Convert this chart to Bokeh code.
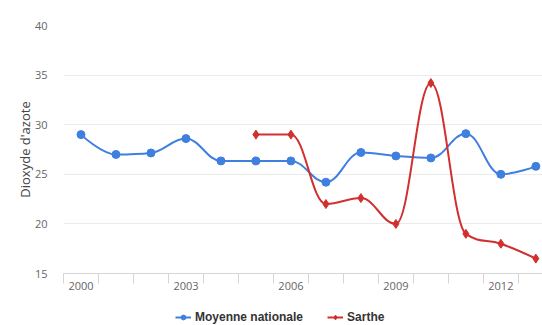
from bokeh.plotting import figure
from bokeh.layouts import column
from bokeh.models import Range1d, FixedTicker, Legend, LegendItem
from bokeh.embed import file_html
from bokeh.resources import INLINE

# ---- data ----
years_nat = [2000, 2001, 2002, 2003, 2004, 2005, 2006, 2007, 2008, 2009, 2010, 2011, 2012, 2013]
nat = [29.0, 27.0, 27.15, 28.6, 26.35, 26.35, 26.35, 24.2, 27.2, 26.85, 26.65, 29.1, 25.0, 25.8]
years_sar = [2005, 2006, 2007, 2008, 2009, 2010, 2011, 2012, 2013]
sarthe = [29.0, 29.0, 22.0, 22.6, 20.0, 34.2, 19.0, 18.0, 16.5]
y_ticks = [15, 20, 25, 30, 35, 40]
x_label_years = [2000, 2003, 2006, 2009, 2012]
series_names = ["Moyenne nationale", "Sarthe"]

BLUE = "#3f7fe0"
RED = "#d22f2f"


def spline_segments(xs, ys, smoothing=1.5):
    """Highcharts-style spline control points (derived from data points)."""
    n = len(xs)
    denom = smoothing + 1
    lcx, lcy = list(xs), list(ys)
    rcx, rcy = list(xs), list(ys)
    for i in range(1, n - 1):
        px, py = xs[i - 1], ys[i - 1]
        x, y = xs[i], ys[i]
        nx, ny = xs[i + 1], ys[i + 1]
        lx = (smoothing * x + px) / denom
        ly = (smoothing * y + py) / denom
        rx = (smoothing * x + nx) / denom
        ry = (smoothing * y + ny) / denom
        if rx != lx:
            corr = ((ry - ly) * (rx - x)) / (rx - lx) + y - ry
            ly += corr
            ry += corr
        if ly > max(py, y):
            ly = max(py, y); ry = 2 * y - ly
        elif ly < min(py, y):
            ly = min(py, y); ry = 2 * y - ly
        if ry > max(ny, y):
            ry = max(ny, y); ly = 2 * y - ry
        elif ry < min(ny, y):
            ry = min(ny, y); ly = 2 * y - ry
        lcx[i], lcy[i], rcx[i], rcy[i] = lx, ly, rx, ry
    seg = dict(x0=[], y0=[], x1=[], y1=[], cx0=[], cy0=[], cx1=[], cy1=[])
    for i in range(1, n):
        seg["x0"].append(xs[i - 1]); seg["y0"].append(ys[i - 1])
        seg["x1"].append(xs[i]); seg["y1"].append(ys[i])
        seg["cx0"].append(rcx[i - 1]); seg["cy0"].append(rcy[i - 1])
        seg["cx1"].append(lcx[i]); seg["cy1"].append(lcy[i])
    return seg


p = figure(width=542, height=300, output_backend="svg", toolbar_location=None,
           x_range=Range1d(years_nat[0] - 0.5, years_nat[-1] + 0.19),
           y_range=Range1d(y_ticks[0], y_ticks[-1]),
           min_border_left=63, min_border_right=0, min_border_top=25, min_border_bottom=27)
p.outline_line_color = None
p.background_fill_color = "white"
p.border_fill_color = "white"

# axes
xa = p.xaxis[0]
xa.ticker = FixedTicker(ticks=x_label_years,
                        minor_ticks=[y - 0.5 for y in years_nat] + [years_nat[-1] + 0.5])
xa.major_tick_out = 0
xa.major_tick_in = 0
xa.minor_tick_in = 0
xa.minor_tick_out = 10
xa.minor_tick_line_color = "#d6d6d6"
xa.axis_line_color = "#d6d6d6"
xa.major_label_standoff = -2
xa.major_label_text_font = "Open Sans"
xa.major_label_text_font_size = "11px"
xa.major_label_text_color = "#666666"

ya = p.yaxis[0]
ya.ticker = FixedTicker(ticks=y_ticks)
ya.axis_line_color = None
ya.major_tick_line_color = None
ya.minor_tick_line_color = None
ya.major_label_standoff = 10
ya.major_label_text_font = "Open Sans"
ya.major_label_text_font_size = "11px"
ya.major_label_text_color = "#666666"
ya.axis_label = "Dioxyde d'azote"
ya.axis_label_text_font = "Open Sans"
ya.axis_label_text_font_style = "normal"
ya.axis_label_text_font_size = "13px"
ya.axis_label_text_color = "#444444"
ya.axis_label_standoff = -2

p.xgrid.grid_line_color = None
p.ygrid.ticker = FixedTicker(ticks=y_ticks)
p.ygrid.grid_line_color = "#ebebeb"

# series
seg_n = spline_segments(years_nat, nat)
seg_s = spline_segments(years_sar, sarthe)

p.bezier(x0="x0", y0="y0", x1="x1", y1="y1", cx0="cx0", cy0="cy0", cx1="cx1", cy1="cy1",
         source=seg_n, line_color=BLUE, line_width=2)
p.scatter(years_nat, nat, marker="circle", size=8, fill_color=BLUE, line_color=BLUE)
p.bezier(x0="x0", y0="y0", x1="x1", y1="y1", cx0="cx0", cy0="cy0", cx1="cx1", cy1="cy1",
         source=seg_s, line_color=RED, line_width=2)
p.scatter(years_sar, sarthe, marker="diamond", size=9, fill_color=RED, line_color=RED)

# ---- legend strip (separate small figure below the chart; its series lie off-view) ----
lf = figure(width=542, height=25, output_backend="svg", toolbar_location=None,
            x_range=Range1d(0, 1), y_range=Range1d(0, 1),
            x_axis_type=None, y_axis_type=None, min_border=0)
lf.outline_line_color = None
lf.xgrid.visible = False
lf.ygrid.visible = False
lln = lf.line(years_nat, nat, line_color=BLUE, line_width=2)
lmn = lf.scatter(years_nat, nat, marker="circle", size=8, fill_color=BLUE, line_color=BLUE)
lls = lf.line(years_sar, sarthe, line_color=RED, line_width=2)
lms = lf.scatter(years_sar, sarthe, marker="diamond", size=9, fill_color=RED, line_color=RED)

legend = Legend(items=[LegendItem(label=series_names[0], renderers=[lln, lmn]),
                       LegendItem(label=series_names[1], renderers=[lls, lms])],
                orientation="horizontal", location=(112, 1),
                label_text_font="Liberation Sans", label_text_font_style="bold",
                label_text_font_size="12px", label_text_color="#333333",
                glyph_width=16, glyph_height=12, label_height=12, label_standoff=4,
                spacing=24, padding=0, margin=0,
                border_line_color=None, background_fill_alpha=0)
lf.add_layout(legend)

open("out.html", "w").write(file_html(column(p, lf, spacing=0), INLINE))
